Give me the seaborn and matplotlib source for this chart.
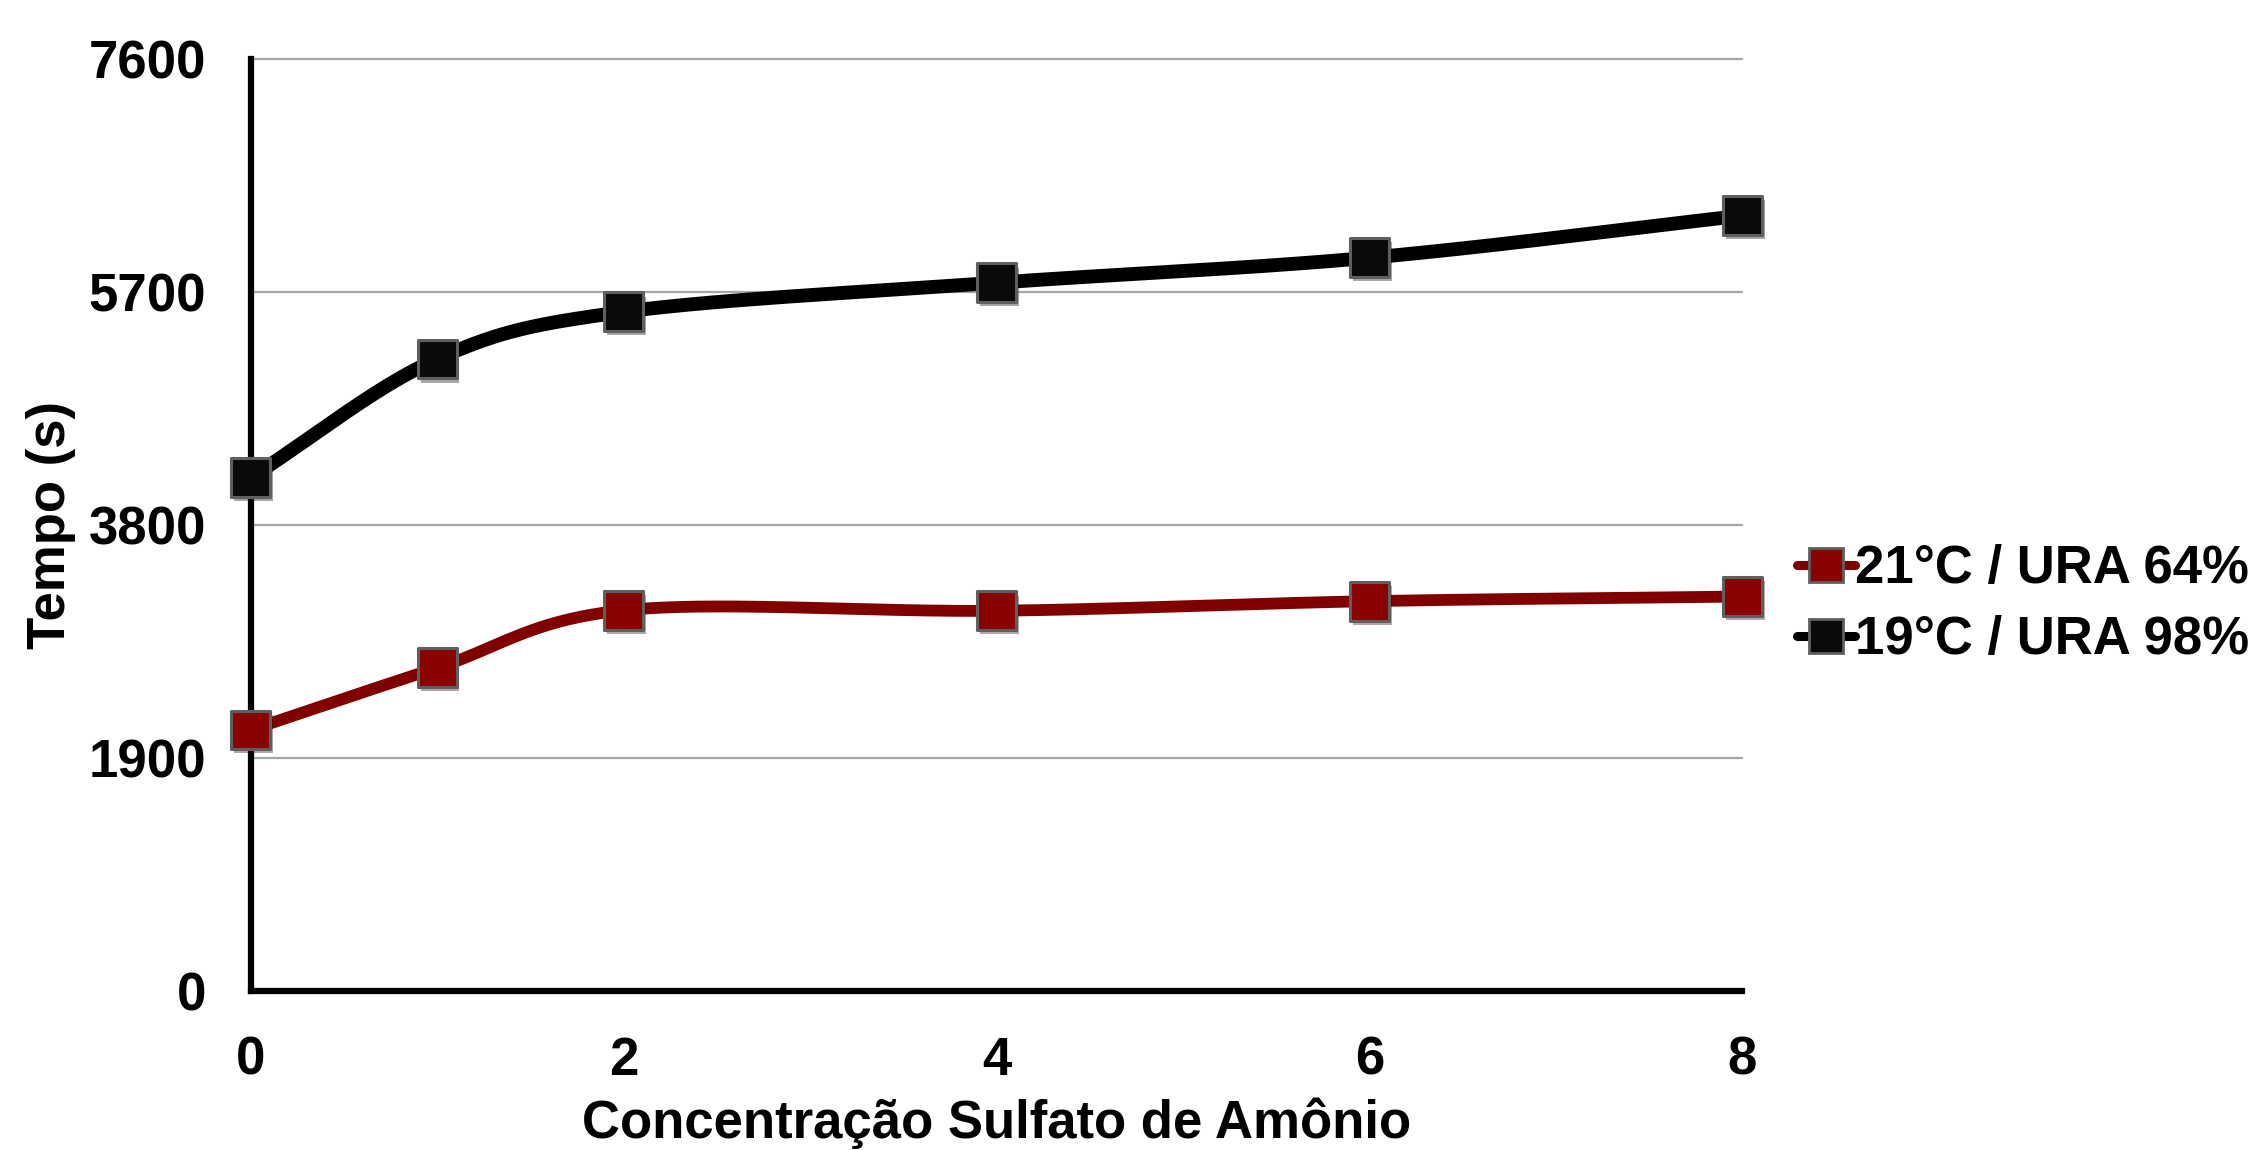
import numpy as np
import pandas as pd
import seaborn as sns
import matplotlib
matplotlib.use("Agg")
import matplotlib.pyplot as plt
from matplotlib.lines import Line2D
import matplotlib.patheffects as pe

# Ammonium sulfate concentration and drying time per condition
concentracao = [0, 1, 2, 4, 6, 8]
tempo_21c = [2130, 2636, 3105, 3101, 3179, 3217]
tempo_19c = [4188, 5153, 5537, 5774, 5978, 6321]
series_nomes = ["21°C / URA 64%", "19°C / URA 98%"]
y_ticks = [0, 1900, 3800, 5700, 7600]
x_ticks = [0, 2, 4, 6, 8]

sns.set_theme(style="white")
plt.rcParams["font.family"] = ["Liberation Sans", "DejaVu Sans"]
plt.rcParams["font.weight"] = "bold"
plt.rcParams["text.color"] = "black"
plt.rcParams["axes.labelcolor"] = "black"
plt.rcParams["xtick.color"] = "black"
plt.rcParams["ytick.color"] = "black"

FS = 38


def catmull_rom(x, y, n=40):
    """Smooth curve through the points (Excel-style smoothed line)."""
    x = np.asarray(x, float)
    y = np.asarray(y, float)
    px = np.concatenate([[2 * x[0] - x[1]], x, [2 * x[-1] - x[-2]]])
    py = np.concatenate([[2 * y[0] - y[1]], y, [2 * y[-1] - y[-2]]])
    xs, ys = [], []
    t = np.linspace(0, 1, n)
    for i in range(1, len(px) - 2):
        p0, p1, p2, p3 = [np.array([px[j], py[j]]) for j in range(i - 1, i + 3)]
        c1 = p1 + (p2 - p0) / 6
        c2 = p2 - (p3 - p1) / 6
        pts = ((1 - t) ** 3)[:, None] * p1 + (3 * (1 - t) ** 2 * t)[:, None] * c1 \
            + (3 * (1 - t) * t ** 2)[:, None] * c2 + (t ** 3)[:, None] * p2
        xs.extend(pts[:, 0])
        ys.extend(pts[:, 1])
    return np.array(xs), np.array(ys)


df = pd.DataFrame({
    "conc": concentracao * 2,
    "tempo": tempo_21c + tempo_19c,
    "serie": [series_nomes[0]] * len(concentracao) + [series_nomes[1]] * len(concentracao),
})

line_colors = {series_nomes[0]: "#800000", series_nomes[1]: "#000000"}
marker_colors = {series_nomes[0]: "#8a0303", series_nomes[1]: "#0a0a0a"}
line_widths = {series_nomes[0]: 8.5, series_nomes[1]: 10.0}

fig = plt.figure(figsize=(22.6, 11.5), dpi=100)
ax = fig.add_axes([0.111, 0.138, 0.660, 0.811])

# horizontal gridlines
for yv in y_ticks[1:]:
    ax.axhline(yv, color="#a6a6a6", lw=1.6, zorder=0)

shadow = [pe.SimplePatchShadow(offset=(2, -3), alpha=0.35), pe.Normal()]

for nome in series_nomes[::-1]:
    sub = df[df["serie"] == nome]
    sx, sy = catmull_rom(sub["conc"], sub["tempo"])
    smooth = pd.DataFrame({"conc": sx, "tempo": sy})
    sns.lineplot(data=smooth, x="conc", y="tempo", ax=ax, color=line_colors[nome],
                 lw=line_widths[nome], sort=False, estimator=None, zorder=3,
                 solid_capstyle="round")
    sns.scatterplot(data=sub, x="conc", y="tempo", ax=ax, marker="s", s=780,
                    color=marker_colors[nome], edgecolor="#5f5f5f", linewidth=2.2,
                    zorder=5, clip_on=False)
    ax.collections[-1].set_path_effects(shadow)

for ln in ax.lines:
    ln.set_clip_on(False)

ax.set_xlim(0, 8)
ax.set_ylim(0, 7600)
ax.set_xticks(x_ticks)
ax.set_yticks(y_ticks)
ax.set_xticklabels([str(v) for v in x_ticks], fontsize=FS, fontweight="bold")
ax.set_yticklabels([str(v) for v in y_ticks], fontsize=FS, fontweight="bold")
ax.tick_params(axis="both", length=0, pad=32, colors="black")

for side in ["top", "right"]:
    ax.spines[side].set_visible(False)
for side in ["left", "bottom"]:
    ax.spines[side].set_color("black")
    ax.spines[side].set_linewidth(4.5)
    ax.spines[side].set_zorder(2)

ax.set_xlabel("Concentração Sulfato de Amônio", fontsize=FS, fontweight="bold",
              va="top", color="black")
ax.xaxis.set_label_coords(0.5, -0.114)
ax.set_ylabel("Tempo (s)", fontsize=FS, fontweight="bold", color="black")
ax.yaxis.set_label_coords(-0.117, 0.5)

handles = [
    Line2D([0], [0], color=line_colors[n], lw=6.5, marker="s", markersize=24,
           markerfacecolor=marker_colors[n], markeredgecolor="#5f5f5f",
           markeredgewidth=2, solid_capstyle="round")
    for n in series_nomes
]
leg = fig.legend(handles, series_nomes, loc="center left", bbox_to_anchor=(0.795, 0.474),
                 frameon=False, handlelength=1.1, handletextpad=0.0,
                 labelspacing=0.4, borderaxespad=0.0, borderpad=0.0,
                 prop={"weight": "bold", "size": FS})
for t in leg.get_texts():
    t.set_color("black")

fig.savefig("out.png", dpi=100, facecolor="white")
